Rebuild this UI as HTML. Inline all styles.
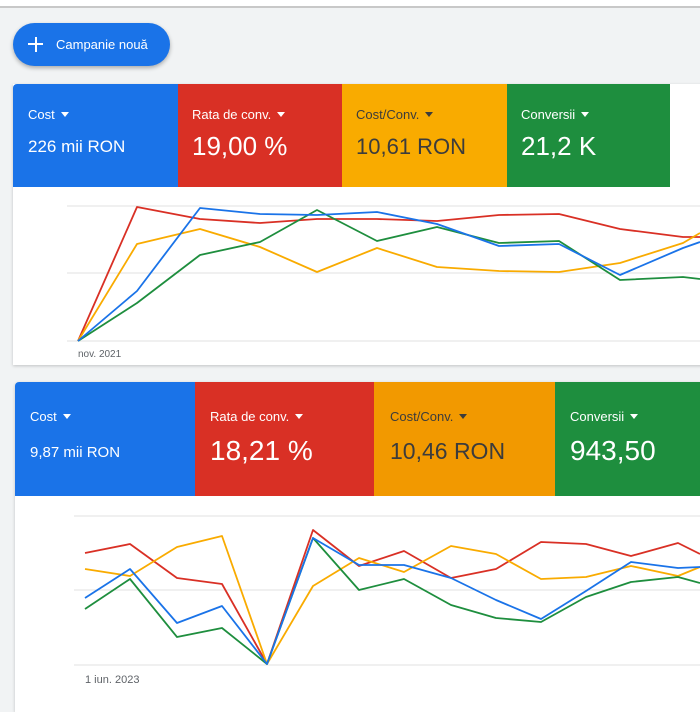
<!DOCTYPE html>
<html><head><meta charset="utf-8"><style>
body{margin:0;width:700px;height:700px;overflow:hidden;background:#f1f3f4;font-family:"Liberation Sans",Arial,sans-serif;position:relative}
.a{position:absolute}
.card{position:absolute;color:#fff}
.lab{position:absolute;font-size:13px;white-space:nowrap}
.val{position:absolute;white-space:nowrap}
.tri{display:inline-block;width:0;height:0;border-left:4px solid transparent;border-right:4px solid transparent;border-top:5px solid currentColor;margin-left:6px;vertical-align:2px}
</style></head><body>
<div class="a" style="left:0;top:0;width:700px;height:6px;background:#fff;border-bottom:2px solid #c8c8c8"></div>
<div class="a" style="left:13px;top:23px;width:157px;height:43px;border-radius:22px;background:#1a73e8;box-shadow:0 2px 4px rgba(0,0,0,.3);color:#fff">
<div class="a" style="left:15px;top:20px;width:15px;height:2px;background:#fff"></div>
<div class="a" style="left:21.5px;top:13.5px;width:2px;height:15px;background:#fff"></div>
<div class="a" style="left:43px;top:14px;font-size:13px">Campanie nouă</div></div>

<!-- panel 1 -->
<div class="a" style="left:13px;top:84px;width:700px;height:281px;background:#fff;box-shadow:0 1px 3px rgba(0,0,0,.2)"></div>
<div class="card" style="left:13px;top:84px;width:165px;height:103px;background:#1a73e8;border-top-left-radius:4px"><div class="lab" style="left:15px;top:23px">Cost<span class="tri"></span></div><div class="val" style="left:15px;top:53px;font-size:17px">226 mii RON</div></div>
<div class="card" style="left:178px;top:84px;width:164px;height:103px;background:#d93025"><div class="lab" style="left:14px;top:23px">Rata de conv.<span class="tri"></span></div><div class="val" style="left:14px;top:47px;font-size:26px">19,00 %</div></div>
<div class="card" style="left:342px;top:84px;width:165px;height:103px;background:#f9ab00;color:#3c3c3c"><div class="lab" style="left:14px;top:23px">Cost/Conv.<span class="tri"></span></div><div class="val" style="left:14px;top:50px;font-size:22px">10,61 RON</div></div>
<div class="card" style="left:507px;top:84px;width:163px;height:103px;background:#1e8e3e"><div class="lab" style="left:14px;top:23px">Conversii<span class="tri"></span></div><div class="val" style="left:14px;top:47px;font-size:26px">21,2 K</div></div>
<div class="a" style="left:78px;top:349px;font-size:10px;color:#5f6368">nov. 2021</div>

<!-- panel 2 -->
<div class="a" style="left:15px;top:382px;width:700px;height:330px;background:#fff;box-shadow:0 1px 3px rgba(0,0,0,.2);border-top-left-radius:4px"></div>
<div class="card" style="left:15px;top:382px;width:180px;height:114px;background:#1a73e8;border-top-left-radius:4px"><div class="lab" style="left:15px;top:27px">Cost<span class="tri"></span></div><div class="val" style="left:15px;top:62px;font-size:15px">9,87 mii RON</div></div>
<div class="card" style="left:195px;top:382px;width:179px;height:114px;background:#d93025"><div class="lab" style="left:15px;top:27px">Rata de conv.<span class="tri"></span></div><div class="val" style="left:15px;top:53px;font-size:28px">18,21 %</div></div>
<div class="card" style="left:374px;top:382px;width:181px;height:114px;background:#f29900;color:#3c3c3c"><div class="lab" style="left:16px;top:27px">Cost/Conv.<span class="tri"></span></div><div class="val" style="left:16px;top:56px;font-size:23px">10,46 RON</div></div>
<div class="card" style="left:555px;top:382px;width:150px;height:114px;background:#1e8e3e"><div class="lab" style="left:15px;top:27px">Conversii<span class="tri"></span></div><div class="val" style="left:15px;top:53px;font-size:28px">943,50</div></div>
<div class="a" style="left:85px;top:674px;font-size:11px;color:#5f6368">1 iun. 2023</div>

<svg class="a" style="left:0;top:0" width="700" height="700" fill="none" stroke-width="1.8" stroke-linejoin="round">
<g stroke="#e0e0e0" stroke-width="1"><line x1="67" y1="206" x2="700" y2="206"/><line x1="67" y1="273" x2="700" y2="273"/><line x1="67" y1="341" x2="700" y2="341"/>
<line x1="74" y1="516" x2="700" y2="516"/><line x1="74" y1="590" x2="700" y2="590"/><line x1="74" y1="665" x2="700" y2="665"/></g>
<polyline stroke="#d93025" points="78,341 137,207 200,219 260,223 317,219 377,219 437,221 499,215 559,214 620,229 683,237 700,237"/>
<polyline stroke="#f9ab00" points="78,341 137,244 200,229 260,247 317,272 377,248 437,267 499,271 559,272 620,263 683,243 700,233"/>
<polyline stroke="#1e8e3e" points="78,341 137,303 200,255 260,242 317,210 377,241 437,227 499,243 559,241 620,280 683,277 700,279"/>
<polyline stroke="#1a73e8" points="78,341 137,291 200,208 260,214 317,215 377,212 437,224 499,246 559,244 620,275 683,248 700,242"/>
<polyline stroke="#d93025" points="85,553 130,544 177,578 222,584 267,664 313,530 359,566 404,551 451,578 496,569 541,542 586,544 631,556 678,543 700,554"/>
<polyline stroke="#f9ab00" points="85,569 130,576 177,547 222,536 267,664 313,586 359,558 404,572 451,546 496,554 541,579 586,577 631,566 678,576 700,567"/>
<polyline stroke="#1e8e3e" points="85,609 130,579 177,637 222,628 267,664 313,538 359,590 404,579 451,605 496,618 541,622 586,597 631,582 678,577 700,583"/>
<polyline stroke="#1a73e8" points="85,598 130,569 177,623 222,606 267,664 313,538 359,565 404,565 451,578 496,600 541,619 586,591 631,562 678,568 700,567"/>
</svg>
</body></html>
